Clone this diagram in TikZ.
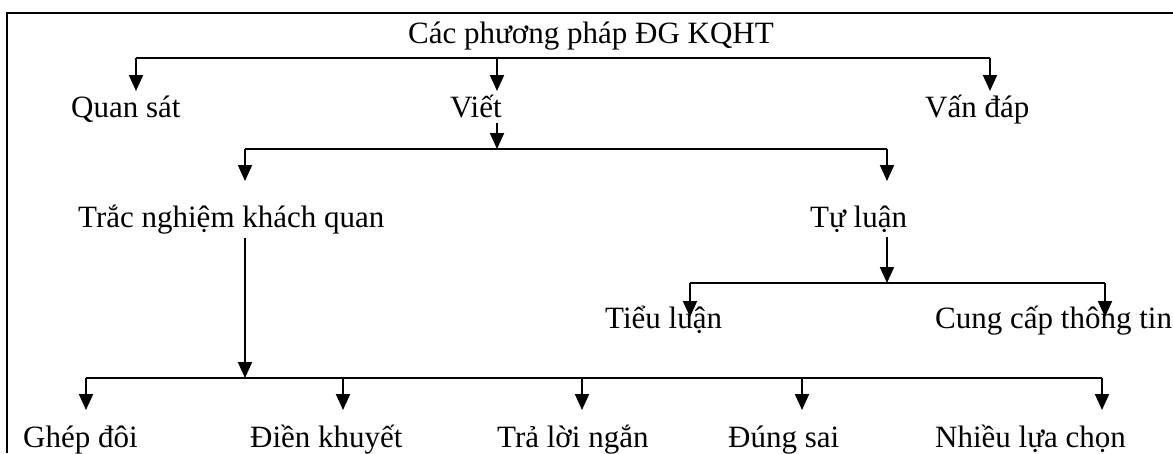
\documentclass[tikz,border=0pt]{standalone}
\usepackage{fontspec}
\setmainfont{Liberation Serif}
\usetikzlibrary{arrows.meta}
\begin{document}
\begin{tikzpicture}[x=1pt,y=-1pt,
  lbl/.style={anchor=base west,inner sep=0pt,font=\fontsize{31}{37}\selectfont},
  bus/.style={line width=2pt},
  arr/.style={line width=2pt,-{Triangle[length=16pt,width=14pt]}}]
\useasboundingbox (0,0) rectangle (1173,453);
% frame
\coordinate (fbl) at (7,453);
\coordinate (ftl) at (7,13);
\coordinate (ftr) at (1173,13);
\draw[bus] (fbl) -- (ftl) -- (ftr);
% texts
\node[lbl] (root) at (408,43) {Các phương pháp ĐG KQHT};
\node[lbl] (qs) at (71,117) {Quan sát};
\node[lbl] (viet) at (450,117) {Viết};
\node[lbl] (vd) at (925,117) {Vấn đáp};
\node[lbl] (tn) at (78,227) {Trắc nghiệm khách quan};
\node[lbl] (tl) at (810,227) {Tự luận};
\node[lbl] (tieu) at (605,328) {Tiểu luận};
\node[lbl] (cc) at (935,328) {Cung cấp thông tin};
\node[lbl] (gd) at (23,447) {Ghép đôi};
\node[lbl] (dk) at (250,447) {Điền khuyết};
\node[lbl] (tln) at (497,447) {Trả lời ngắn};
\node[lbl] (ds) at (728,447) {Đúng sai};
\node[lbl] (nl) at (935,447) {Nhiều lựa chọn};
% level 1 bus
\coordinate (a1) at (136,58); \coordinate (a2) at (497,58); \coordinate (a3) at (990,58);
\draw[bus] (a1) -- (a3);
\draw[arr] (a1) -- ++(0,33);
\draw[arr] (a2) -- ++(0,33);
\draw[arr] (a3) -- ++(0,33);
% Viet -> bus 2
\coordinate (v0) at (497,123); \coordinate (v1) at (497,149);
\draw[arr] (v0) -- (v1);
\coordinate (b1) at (245,149); \coordinate (b2) at (887,149);
\draw[bus] (b1) -- (b2);
\draw[arr] (b1) -- ++(0,32);
\draw[arr] (b2) -- ++(0,32);
% Trac nghiem -> bus 3
\coordinate (k0) at (245,238); \coordinate (k1) at (245,378);
\draw[arr] (k0) -- (k1);
\coordinate (c1) at (86,378); \coordinate (c2) at (343,378); \coordinate (c3) at (582,378);
\coordinate (c4) at (802,378); \coordinate (c5) at (1102,378);
\draw[bus] (c1) -- (c5);
\foreach \c in {c1,c2,c3,c4,c5} \draw[arr] (\c) -- ++(0,32);
% Tu luan -> bus 4
\coordinate (r0) at (887,237); \coordinate (r1) at (887,283);
\draw[arr] (r0) -- (r1);
\coordinate (d1) at (690,283); \coordinate (d2) at (1105,283);
\draw[bus] (d1) -- (d2);
\draw[arr] (d1) -- ++(0,34);
\draw[arr] (d2) -- ++(0,34);
\end{tikzpicture}
\end{document}
